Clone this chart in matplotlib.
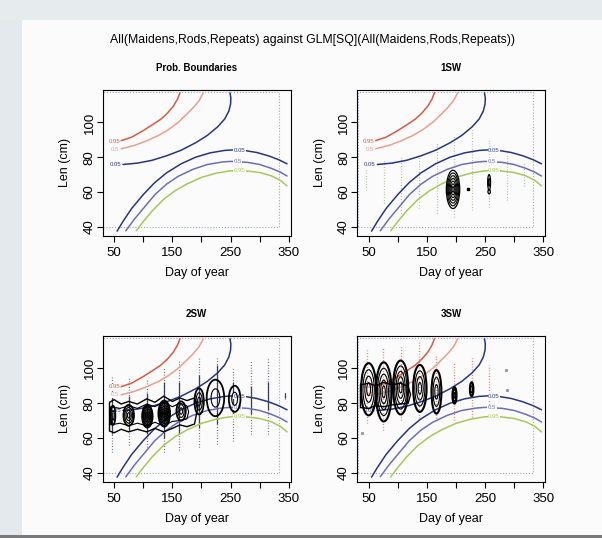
import matplotlib
matplotlib.use("Agg")
import matplotlib.pyplot as plt
from matplotlib.patches import Ellipse, Rectangle, Polygon

plt.rcParams["font.family"] = ["Liberation Sans", "DejaVu Sans"]

# ── Probability boundary curves (day of year, length cm) ─────────────────
UP95_X = [62, 80, 100, 115, 130, 142, 152, 159, 163]
UP95_Y = [89.5, 91.5, 95.3, 98.5, 101.8, 105.5, 109.5, 113.5, 117]
UP50_X = [62, 85, 105, 125, 143, 160, 174, 186, 196, 203]
UP50_Y = [84.8, 86.8, 89.3, 92.3, 95.8, 100, 104.5, 108.5, 112.5, 117]
UP05_X = [65, 90, 115, 140, 165, 190, 210, 228, 240, 247, 250, 250.5, 249]
UP05_Y = [75.8, 76.6, 78.2, 80.8, 84, 88.3, 92.5, 97.5, 102, 106.5, 110.5, 114, 117]

LO05_X = [55, 65, 80, 100, 120, 140, 165, 190, 215, 240, 255, 275, 295, 315, 333, 347]
LO05_Y = [37.5, 43, 50.5, 58.5, 65.5, 71, 76.2, 80, 82.5, 83.9, 84.2, 83.8, 82.7, 80.8, 78.5, 76.2]
LO50_X = [70, 85, 100, 120, 140, 160, 185, 210, 235, 250, 280, 300, 320, 335, 347]
LO50_Y = [37.7, 44.5, 50.5, 58.5, 64.5, 69, 73, 75.8, 77.2, 77.6, 77, 75.8, 73.6, 71.5, 69.2]
LO95_X = [88, 100, 115, 135, 155, 175, 200, 225, 250, 275, 300, 320, 335, 347]
LO95_Y = [37.7, 43, 49, 55.8, 60.8, 64.6, 68.4, 70.8, 72.2, 72.2, 71.2, 69.3, 66.8, 63.5]

# contour labels: text, day, length
UP_LABELS = [("0.95", 50, 89.3), ("0.5", 52, 84.7), ("0.05", 52, 75.8)]
LO_LABELS = [("0.05", 265, 84.1), ("0.5", 262, 77.5), ("0.95", 265, 72.3)]

# ── Sampled days: point columns (day, low, high, dense low, dense high) ──
SW1_DAY = [46, 77, 105, 136, 167, 196, 227, 257, 287, 317]
SW1_LO = [61.3, 53.5, 47.7, 51, 47.7, 45.8, 49.7, 51.6, 55.5, 63.2]
SW1_HI = [72.9, 78.7, 80.6, 80, 88.4, 92.3, 97, 91.3, 82.6, 76.8]

SW2_DAY = [47, 75, 106, 135, 162, 195, 226, 255, 285, 315, 344]
SW2_LO = [51.8, 55.7, 54.7, 51.8, 52.8, 54.7, 56.6, 58.5, 62.4, 62.4, 82.4]
SW2_HI = [95.8, 95.2, 93.9, 100.6, 104.4, 106.3, 107.3, 99.6, 104.4, 105.3, 87]
SW2_DLO = [62, 64, 62, 60, 62, 66, 68, 72, 74, 76, 83]
SW2_DHI = [84, 84, 86, 92, 92, 96, 102, 92, 90, 92, 86]

SW3_DAY = [47, 75, 105, 136, 166, 197, 228, 257]
SW3_LO = [68.4, 64.5, 70.3, 71.2, 71.2, 70.3, 72.2, 78]
SW3_HI = [110.5, 111.5, 112.5, 116.3, 107.7, 102.9, 105.7, 101.9]
SW3_STRAY_X = [286, 287, 39]
SW3_STRAY_Y = [99, 87.5, 62.6]

# ── Density contours: concentric rings (day, length, width, height, rings)
SW1_CX = [195, 257, 257]
SW1_CY = [61.5, 65.5, 60.2]
SW1_W = [23, 5, 4]
SW1_H = [22, 9, 2.5]
SW1_N = [7, 2, 1]
SW1_DOT = (221, 61.5)

SW2_CX = [48, 75, 107, 136, 165, 196, 224, 257]
SW2_CY = [73, 73, 72.5, 74, 75.5, 81, 83, 82.5]
SW2_W = [8, 18, 18, 20, 16, 16, 30, 20]
SW2_H = [11, 12, 13, 15, 11, 15, 21, 15]
SW2_N = [2, 4, 8, 9, 3, 3, 2, 2]
SW2_BAND_OUT = [(42, 80.5), (50, 82), (62, 79.5), (75, 81), (90, 79.5), (106, 82.5),
                (120, 80.5), (135, 84), (150, 81), (163, 83), (175, 81.5), (188, 83),
                (194, 78), (188, 68), (175, 66.5), (163, 67.5), (150, 65.5), (135, 63.5),
                (120, 65.5), (106, 63.5), (90, 65), (75, 63.5), (62, 65), (50, 63), (42, 64)]
SW2_BAND_IN = [(44, 78), (60, 77), (75, 78.5), (90, 77), (106, 79.5), (120, 78),
               (135, 80.5), (150, 78), (163, 80), (175, 78.5), (178, 75), (175, 71),
               (163, 70), (150, 69.5), (135, 67), (120, 69), (106, 67), (90, 68.5),
               (75, 67), (60, 68.5), (44, 67.5)]

SW3_CX = [50, 76, 105, 138, 166.5, 197.5, 227]
SW3_CY = [88, 86.5, 89, 88.5, 86.5, 84.5, 88]
SW3_W = [26, 27, 26, 23, 17, 7, 6]
SW3_H = [30, 34, 31, 27, 25, 9.5, 8]
SW3_N = [4, 5, 5, 4, 3, 3, 2]
SW3_BAND = [(36, 90.5), (50, 91.5), (62, 90), (76, 92), (90, 90.5), (105, 91.5), (118, 89.5),
            (122, 85), (118, 80), (105, 79.5), (90, 79), (76, 78), (62, 78.5), (50, 77), (36, 77.5)]

# ── Styles ───────────────────────────────────────────────────────────────
C_RED, C_SALMON, C_NAVY = "#d65a45", "#e7a08e", "#29367f"
C_PURPLE, C_GREEN = "#6b6fb5", "#a6c85a"
XLIM, YLIM = (30, 353), (34.7, 118.8)


def draw_base(ax, title):
    ax.set_xlim(*XLIM)
    ax.set_ylim(*YLIM)
    ax.add_patch(Rectangle((31.5, 40), 333 - 31.5, 117.5 - 40, fill=False,
                           ls=(0, (1, 1.6)), lw=0.8, ec="#a4a9ba", zorder=1))
    for xs, ys, c in [(UP95_X, UP95_Y, C_RED), (UP50_X, UP50_Y, C_SALMON),
                      (UP05_X, UP05_Y, C_NAVY), (LO05_X, LO05_Y, C_NAVY),
                      (LO50_X, LO50_Y, C_PURPLE), (LO95_X, LO95_Y, C_GREEN)]:
        ax.plot(xs, ys, color=c, lw=1.1, zorder=3, solid_capstyle="round")
    for (t, x, y), c in zip(UP_LABELS + LO_LABELS,
                            [C_RED, C_SALMON, C_NAVY, C_NAVY, C_PURPLE, C_GREEN]):
        ax.text(x, y, t, color=c, fontsize=4.3, ha="center", va="center", zorder=4,
                bbox=dict(fc="white", ec="none", pad=0.3))

    ax.set_xticks([50, 150, 250, 350])
    ax.set_xticks([100, 200, 300], minor=True)
    ax.set_yticks([40, 60, 80, 100])
    ax.tick_params(which="both", direction="out", length=4, width=0.8, labelsize=9.5)
    ax.tick_params(axis="x", pad=4)
    ax.tick_params(axis="y", labelrotation=90, pad=1)
    for lab in ax.get_yticklabels():
        lab.set_va("center")
    for s in ax.spines.values():
        s.set_linewidth(0.8)
    ax.set_xlabel("Day of year", fontsize=9)
    ax.set_ylabel("Len (cm)", fontsize=9)
    ax.xaxis.set_label_coords(0.5, -0.215)
    ax.yaxis.set_label_coords(-0.165, 0.5)
    ax.text(0.5, 1.15, title, transform=ax.transAxes, ha="center", va="center",
            fontsize=7, fontweight="bold")


def draw_rings(ax, cx, cy, w, h, n, lw_out=1.0, lw_in=0.7):
    for x, y, ww, hh, k in zip(cx, cy, w, h, n):
        for i in range(k):
            f = 1 - i / k
            ax.add_patch(Ellipse((x, y), ww * f, hh * f, fill=False, ec="black",
                                 lw=lw_out if i == 0 else lw_in, zorder=5))


fig = plt.figure(figsize=(6.02, 5.38), dpi=100)
fig.patch.set_facecolor("#fbfbfb")
fig.add_artist(Rectangle((0, 0), 22 / 602, 1, transform=fig.transFigure,
                         fc="#e3e9ec", ec="none", zorder=0))
fig.add_artist(Rectangle((0, 1 - 20 / 538), 1, 20 / 538, transform=fig.transFigure,
                         fc="#e6ebee", ec="none", zorder=0))
fig.add_artist(Rectangle((0, 0), 1, 3 / 538, transform=fig.transFigure,
                         fc="#7a7a7a", ec="none", zorder=0))

W, H = 0.3123, 0.272
ax1 = fig.add_axes([0.1703, 0.5613, W, H])
ax2 = fig.add_axes([0.5930, 0.5613, W, H])
ax3 = fig.add_axes([0.1703, 0.1041, W, H])
ax4 = fig.add_axes([0.5930, 0.1041, W, H])
for ax in (ax1, ax2, ax3, ax4):
    ax.set_facecolor("none")

draw_base(ax1, "Prob. Boundaries")

# 1SW
draw_base(ax2, "1SW")
ax2.vlines(SW1_DAY, SW1_LO, SW1_HI, colors="#9fb38c", lw=0.9, ls=(0, (0.6, 1.6)), zorder=2)
draw_rings(ax2, SW1_CX, SW1_CY, SW1_W, SW1_H, SW1_N, lw_out=0.9, lw_in=0.8)
ax2.plot(*SW1_DOT, "s", color="black", ms=2, zorder=5)

# 2SW
draw_base(ax3, "2SW")
ax3.vlines(SW2_DAY, SW2_LO, SW2_HI, colors="#4a4f6a", lw=0.9, ls=(0, (0.6, 1.6)), zorder=2)
ax3.vlines(SW2_DAY, SW2_DLO, SW2_DHI, colors="#3a3f5a", lw=0.9, zorder=2)
ax3.add_patch(Polygon(SW2_BAND_OUT, closed=True, fill=False, ec="black", lw=1.0, zorder=5))
ax3.add_patch(Polygon(SW2_BAND_IN, closed=True, fill=False, ec="black", lw=0.8, zorder=5))
draw_rings(ax3, SW2_CX, SW2_CY, SW2_W, SW2_H, SW2_N, lw_out=1.3, lw_in=0.8)

# 3SW
draw_base(ax4, "3SW")
ax4.vlines(SW3_DAY, SW3_LO, SW3_HI, colors="#d8705e", lw=1.0, ls=(0, (0.6, 1.4)), zorder=2)
ax4.plot(SW3_STRAY_X, SW3_STRAY_Y, "s", color="#999999", ms=1.2, zorder=2)
ax4.add_patch(Polygon(SW3_BAND, closed=True, fill=False, ec="black", lw=1.0, zorder=5))
draw_rings(ax4, SW3_CX, SW3_CY, SW3_W, SW3_H, SW3_N, lw_out=1.5, lw_in=0.8)

fig.text(313 / 602, 1 - 40 / 538,
         "All(Maidens,Rods,Repeats) against GLM[SQ](All(Maidens,Rods,Repeats))",
         ha="center", va="center", fontsize=8.8)

fig.savefig("out.png", dpi=100, facecolor=fig.get_facecolor())
